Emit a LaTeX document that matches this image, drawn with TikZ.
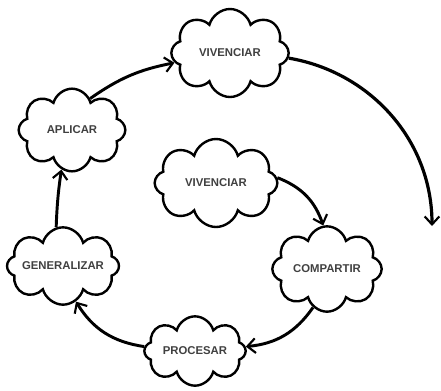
\documentclass[tikz,border=0pt]{standalone}
\usepackage{fontspec}
\setmainfont{Liberation Sans}
\usetikzlibrary{shapes.symbols,arrows.meta}
\tikzset{
  cloudbox/.style={draw, cloud, cloud puffs=8, cloud ignores aspect, line width=1.8pt,
    inner sep=0pt, font=\bfseries\fontsize{8.5}{9}\selectfont, text=black!75},
  arr/.style={line width=2.2pt, -{Straight Barb[length=6pt,width=11pt,line width=1.6pt]}}
}
\begin{document}
\begin{tikzpicture}[x=0.75pt,y=0.75pt]
\useasboundingbox (0,0) rectangle (441,-390);
\node[cloudbox, minimum width=88pt, minimum height=66pt] (vivA) at (230,-53) {VIVENCIAR};
\node[cloudbox, minimum width=80pt, minimum height=62pt] (apl) at (72,-130) {APLICAR};
\node[cloudbox, minimum width=92pt, minimum height=66pt] (vivB) at (216,-183) {VIVENCIAR};
\node[cloudbox, minimum width=82pt, minimum height=64pt] (comp) at (327,-269) {COMPARTIR};
\node[cloudbox, minimum width=84pt, minimum height=58pt] (gen) at (63,-266) {GENERALIZAR};
\node[cloudbox, minimum width=76pt, minimum height=52pt] (proc) at (195,-351) {PROCESAR};
\coordinate (endA) at (432,-226);

\path[draw,arr] (apl.60) to[bend left=12] (vivA.190);
\path[draw,line width=2.4pt,-{Straight Barb[length=6pt,width=11pt,line width=1.6pt]}] (vivA.-5) .. controls (370,-72) and (432,-140) .. (endA);
\path[draw,arr] (vivB.5) to[bend left=25] (comp.95);
\path[draw,arr] (comp.-110) to[bend left=25] (proc.5);
\path[draw,arr] (proc.175) to[bend left=25] (gen.-70);
\path[draw,arr] (gen.100) to[bend left=3] (apl.-105);
\end{tikzpicture}
\end{document}
